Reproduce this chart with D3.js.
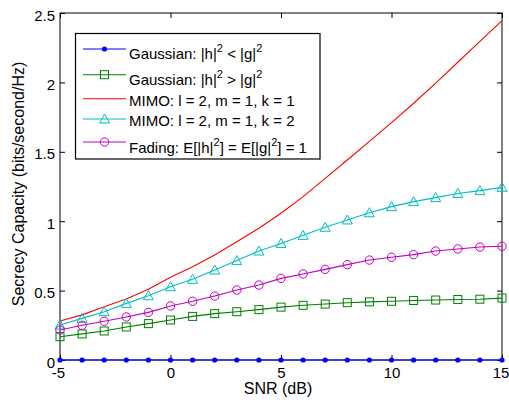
<!DOCTYPE html>
<html>
<head>
<meta charset="utf-8">
<script src="https://cdn.jsdelivr.net/npm/d3@7"></script>
<style>
  html, body { margin: 0; padding: 0; background: #fff; }
  svg { display: block; font-family: "Liberation Sans", Arial, sans-serif; }
</style>
</head>
<body>
<div id="chart"></div>
<script>
// data
const snr = [-5, -4, -3, -2, -1, 0, 1, 2, 3, 4, 5, 6, 7, 8, 9, 10, 11, 12, 13, 14, 15]
const gaussLow = [0, 0, 0, 0, 0, 0, 0, 0, 0, 0, 0, 0, 0, 0, 0, 0, 0, 0, 0, 0, 0]
const gaussHigh = [0.168, 0.188, 0.209, 0.238, 0.262, 0.288, 0.314, 0.334, 0.348, 0.363, 0.381, 0.394, 0.403, 0.413, 0.419, 0.423, 0.429, 0.432, 0.436, 0.438, 0.446]
const mimo1 = [0.281, 0.325, 0.384, 0.44, 0.51, 0.596, 0.672, 0.756, 0.852, 0.949, 1.057, 1.177, 1.309, 1.441, 1.575, 1.71, 1.85, 1.995, 2.145, 2.295, 2.445]
const mimo2 = [0.252, 0.3, 0.348, 0.408, 0.463, 0.528, 0.581, 0.648, 0.716, 0.785, 0.84, 0.898, 0.956, 1.009, 1.061, 1.105, 1.141, 1.17, 1.2, 1.22, 1.244]
const fading = [0.216, 0.25, 0.279, 0.31, 0.343, 0.389, 0.423, 0.461, 0.504, 0.54, 0.588, 0.62, 0.653, 0.687, 0.72, 0.74, 0.759, 0.785, 0.8, 0.814, 0.819]
const xTicks = [-5, 0, 5, 10, 15]
const yTicks = [0, 0.5, 1, 1.5, 2, 2.5]

// consts
const width = 509
const height = 405
const plotLeft = 60, plotRight = 502, plotTop = 13, plotBottom = 360
const tickLen = 5
const font = "Liberation Sans, Arial, sans-serif"

const series = [
  { label: [["Gaussian: |h|"], ["2", true], [" < |g|"], ["2", true]], values: gaussLow, color: "#0000ff", marker: "dot" },
  { label: [["Gaussian: |h|"], ["2", true], [" > |g|"], ["2", true]], values: gaussHigh, color: "#008000", marker: "square" },
  { label: [["MIMO: l = 2, m = 1, k = 1"]], values: mimo1, color: "#ff0000", marker: null },
  { label: [["MIMO: l = 2, m = 1, k = 2"]], values: mimo2, color: "#00bfbf", marker: "triangle" },
  { label: [["Fading: E[|h|"], ["2", true], ["] = E[|g|"], ["2", true], ["] = 1"]], values: fading, color: "#bf00bf", marker: "circle" }
]

const svg = d3.select("#chart")
  .append("svg")
  .attr("width", width)
  .attr("height", height)

const x = d3.scaleLinear().domain([-5, 15]).range([plotLeft, plotRight])
const y = d3.scaleLinear().domain([0, 2.5]).range([plotBottom, plotTop])

// axes box, MATLAB style ticks on every side pointing inward
svg.append("rect")
  .attr("x", plotLeft).attr("y", plotTop)
  .attr("width", plotRight - plotLeft).attr("height", plotBottom - plotTop)
  .attr("fill", "#fff").attr("stroke", "#000").attr("stroke-width", 1)

const xAxis = svg.append("g")
  .attr("transform", `translate(0,${plotBottom})`)
  .call(d3.axisBottom(x).tickValues(xTicks).tickSize(-tickLen).tickFormat(d => String(d)))
xAxis.select(".domain").remove()
xAxis.selectAll("text").attr("y", 18).attr("dy", 0).attr("font-size", 15).attr("fill", "#000")
  .attr("font-family", font)
  .attr("dx", d => d < 0 ? -2 : (d === 15 ? -1.5 : 0))

svg.append("g")
  .attr("transform", `translate(0,${plotTop})`)
  .call(d3.axisTop(x).tickValues(xTicks).tickSize(-tickLen).tickFormat(""))
  .select(".domain").remove()

const yAxis = svg.append("g")
  .attr("transform", `translate(${plotLeft},0)`)
  .call(d3.axisLeft(y).tickValues(yTicks).tickSize(-tickLen).tickFormat(d => String(d)))
yAxis.select(".domain").remove()
yAxis.selectAll("text").attr("x", -5).attr("dy", 7).attr("font-size", 15).attr("fill", "#000")
  .attr("font-family", font)

svg.append("g")
  .attr("transform", `translate(${plotRight},0)`)
  .call(d3.axisRight(y).tickValues(yTicks).tickSize(-tickLen).tickFormat(""))
  .select(".domain").remove()

svg.selectAll(".tick line").attr("stroke", "#000")

// labels
svg.append("text")
  .attr("x", 278).attr("y", 393.5)
  .attr("text-anchor", "middle").attr("font-size", 16)
  .text("SNR (dB)")

svg.append("text")
  .attr("transform", "translate(24,184) rotate(-90)")
  .attr("text-anchor", "middle").attr("font-size", 16)
  .text("Secrecy Capacity (bits/second/Hz)")

// marker drawing
function drawMarker(g, type, color, cx, cy) {
  if (type === "dot") {
    g.append("circle").attr("cx", cx).attr("cy", cy).attr("r", 2.6).attr("fill", color)
  } else if (type === "square") {
    g.append("rect").attr("x", cx - 4).attr("y", cy - 4).attr("width", 8).attr("height", 8)
      .attr("fill", "none").attr("stroke", color).attr("stroke-width", 1)
  } else if (type === "triangle") {
    g.append("path").attr("d", `M${cx},${cy - 5}L${cx + 5},${cy + 4}L${cx - 5},${cy + 4}Z`)
      .attr("fill", "none").attr("stroke", color).attr("stroke-width", 1)
  } else if (type === "circle") {
    g.append("circle").attr("cx", cx).attr("cy", cy).attr("r", 4.2)
      .attr("fill", "none").attr("stroke", color).attr("stroke-width", 1)
  }
}

const line = d3.line().x(d => x(d[0])).y(d => y(d[1]))

series.forEach(s => {
  const pts = snr.map((v, i) => [v, s.values[i]])
  const g = svg.append("g")
  g.append("path")
    .datum(pts)
    .attr("d", line)
    .attr("fill", "none")
    .attr("stroke", s.color)
    .attr("stroke-width", 1.1)
  if (s.marker) {
    pts.forEach(p => drawMarker(g, s.marker, s.color, x(p[0]), y(p[1])))
  }
})

// legend
const legend = svg.append("g")
legend.append("rect")
  .attr("x", 75.5).attr("y", 33.5)
  .attr("width", 244.5).attr("height", 125.5)
  .attr("fill", "#fff").attr("stroke", "#000").attr("stroke-width", 1.2)

const sampleY = [49, 74.7, 98.7, 119, 142]
const textY = [59.3, 85, 106, 126, 153]

series.forEach((s, i) => {
  legend.append("line")
    .attr("x1", 83).attr("x2", 126)
    .attr("y1", sampleY[i]).attr("y2", sampleY[i])
    .attr("stroke", s.color).attr("stroke-width", 1.1)
  if (s.marker) drawMarker(legend, s.marker, s.color, 104.5, sampleY[i])

  const t = legend.append("text")
    .attr("x", 129).attr("y", textY[i])
    .attr("font-size", 15)
  let up = false
  s.label.forEach(([str, sup]) => {
    const span = t.append("tspan").text(str)
    if (sup && !up) { span.attr("dy", -7).attr("font-size", 11); up = true }
    else if (!sup && up) { span.attr("dy", 7); up = false }
    else if (sup) span.attr("font-size", 11)
  })
})
</script>
</body>
</html>
